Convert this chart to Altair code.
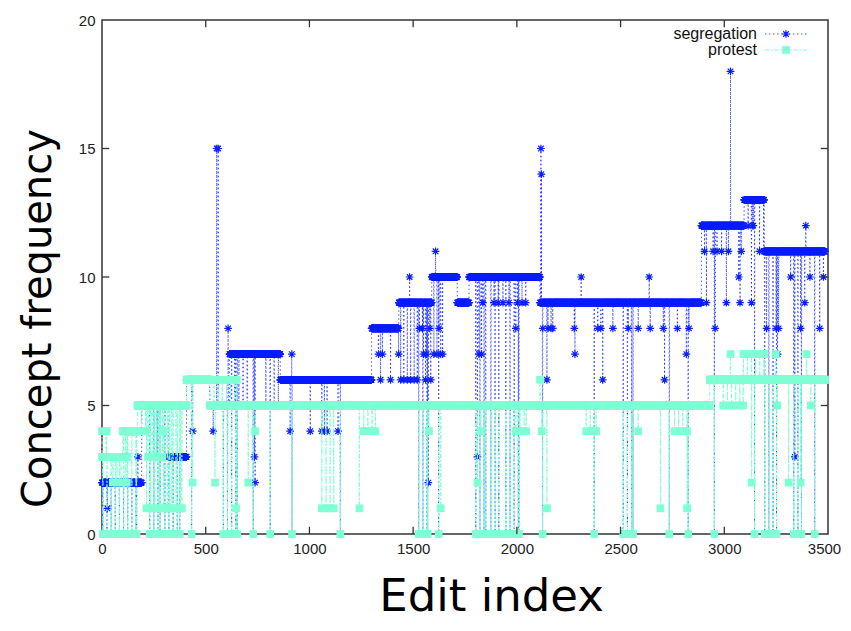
import numpy as np
import pandas as pd
import altair as alt

# ---------------- data ----------------
N_EDITS = 3486          # number of edits in the history
BAND_STEP = 20          # sampling of short revert/oscillation episodes

series_names = ["segregation", "protest"]

# segregation: plateau levels (run start edit, value) -- value holds until next start
seg_run_start = [0, 192, 320, 408, 520, 615, 860, 1300, 1430, 1590, 1713, 1770, 2112, 2890, 3095, 3193]
seg_run_value = [2, 5, 3, 6, 5, 7, 6, 8, 9, 10, 9, 10, 9, 12, 13, 11]

# segregation: episodes where the count flips back and forth to another level
seg_band_start = [640, 790, 3095, 3170]
seg_band_end = [700, 850, 3140, 3193]
seg_band_value = [5, 5, 12, 11]

# segregation: single-edit excursions
seg_spike_x = [26, 173, 232, 240, 250, 265, 437, 536, 553, 560, 577, 585, 608, 735, 738,
               907, 915, 1004, 1060, 1072, 1085, 1138, 1333, 1343, 1352, 1391, 1430, 1440,
               1455, 1472, 1483, 1488, 1505, 1520, 1530, 1545, 1550, 1560, 1565, 1573, 1580,
               1585, 1600, 1608, 1615, 1625, 1633, 1642, 1810, 1817, 1822, 1830, 1836, 1890,
               1910, 1933, 1962, 1995, 2004, 2010, 2025, 2043, 2116, 2118, 2125, 2145, 2150,
               2165, 2173, 2277, 2280, 2310, 2390, 2405, 2414, 2463, 2537, 2585, 2638, 2643,
               2706, 2712, 2774, 2817, 2830, 2905, 2914, 2946, 2956, 2965, 2987, 3010, 3020,
               3030, 3070, 3076, 3082, 3131, 3204, 3215, 3235, 3250, 3257, 3262, 3320, 3340,
               3368, 3388, 3393, 3413, 3460, 3478]
seg_spike_y = [1, 3, 5, 5, 3, 3, 4, 4, 15, 15, 5, 4, 8, 3, 2,
               4, 7, 4, 4, 4, 4, 4, 7, 6, 7, 6, 7, 6,
               6, 6, 10, 6, 6, 6, 8, 8, 7, 6, 7, 2, 8,
               6, 7, 11, 7, 8, 7, 7, 3, 7, 9, 7, 9, 9,
               9, 9, 9, 8, 9, 7, 9, 9, 15, 14, 8, 6, 8,
               8, 8, 8, 7, 10, 8, 8, 6, 8, 8, 8, 10, 8,
               8, 6, 8, 7, 8, 11, 9, 11, 8, 11, 11, 9, 11,
               18, 10, 9, 11, 9, 8, 8, 8, 8, 7, 8, 10, 3,
               8, 9, 12, 10, 8, 10]

# protest
prot_run_start = [0, 100, 170, 408, 520, 2930]
prot_run_value = [3, 4, 5, 6, 5, 6]

prot_band_start = [0, 52, 100, 170, 222, 215, 337, 520, 1060, 1262, 1995, 2334, 2760, 2995, 3091]
prot_band_end = [23, 120, 124, 295, 290, 327, 385, 650, 1117, 1318, 2045, 2382, 2826, 3091, 3193]
prot_band_value = [4, 2, 3, 4, 3, 1, 1, 6, 1, 4, 4, 4, 4, 5, 7]

prot_spike_x = [437, 545, 646, 705, 738, 1241, 1576, 1633, 1802, 1810, 1826, 2112, 2120, 2145,
                2585, 2692, 2821, 3030, 3131, 3248, 3256, 3310, 3368, 3397, 3417]
prot_spike_y = [2, 2, 1, 2, 4, 1, 4, 1, 1, 2, 4, 6, 4, 1,
                4, 1, 1, 7, 2, 7, 5, 2, 2, 7, 5]

# blanked edits (both concepts drop to zero)
blank_band_start = [4, 230, 303, 585, 1527, 1802, 1875, 1947, 2513, 3195, 3335]
blank_band_end = [167, 280, 375, 652, 1570, 1850, 1913, 2010, 2560, 3252, 3372]
blank_x = [432, 729, 811, 916, 1149, 1623, 2124, 2373, 2735, 2826, 2952, 3146, 3436]

x_tick_values = [0, 500, 1000, 1500, 2000, 2500, 3000, 3500]
y_tick_values = [0, 5, 10, 15, 20]

# ---------------- build per-edit series ----------------
def band_positions(s, e):
    xs = list(range(s, e + 1, BAND_STEP))
    if xs[-1] != e:
        xs.append(e)
    return xs


def build(run_start, run_value, bs, be, bv, sx, sy):
    vals = np.zeros(N_EDITS)
    ends = list(run_start[1:]) + [N_EDITS]
    for s, e, v in zip(run_start, ends, run_value):
        vals[s:e] = v
    taken = set()

    def put(x, v):
        while x in taken and x < N_EDITS - 1:
            x += 1
        taken.add(x)
        vals[x] = v

    for s, e, v in zip(bs, be, bv):
        for x in band_positions(s, e):
            put(x, v)
    for x, v in zip(sx, sy):
        put(x, v)
    for s, e in zip(blank_band_start, blank_band_end):
        for x in band_positions(s, e):
            vals[x] = 0
    for x in blank_x:
        vals[x] = 0
    return vals


seg_vals = build(seg_run_start, seg_run_value, seg_band_start, seg_band_end, seg_band_value,
                 seg_spike_x, seg_spike_y)
prot_vals = build(prot_run_start, prot_run_value, prot_band_start, prot_band_end, prot_band_value,
                  prot_spike_x, prot_spike_y)

edits = np.arange(N_EDITS)
df_seg = pd.DataFrame({"edit": edits, "freq": seg_vals})
df_prot = pd.DataFrame({"edit": edits, "freq": prot_vals})

BLUE = "#0a1eff"
CYAN = "#7fffd4"
STAR = "M-1,0L1,0M0,-1L0,1M-0.72,-0.72L0.72,0.72M-0.72,0.72L0.72,-0.72"
STAR_SIZE = 60
SQ_SIZE = 60

X0, X1 = 0, 3500
Y0, Y1 = 0, 20
xscale = alt.Scale(domain=[X0, X1], nice=False, zero=False)
yscale = alt.Scale(domain=[Y0, Y1], nice=False, zero=False)

xaxis = alt.Axis(values=x_tick_values, format="d", labelFlush=False, title="Edit index", grid=False,
                 domain=False, tickSize=0,
                 labelOffset={"condition": {"test": f"datum.value >= {X1}", "value": -4}, "value": 0},
                 labelFont="Liberation Sans", labelFontSize=15, labelColor="#222222", labelPadding=7,
                 titleFont="DejaVu Sans", titleFontSize=45, titleFontWeight="normal", titleColor="#000000",
                 titleX=389, titleY=76, titleBaseline="alphabetic", titleAlign="center")
yaxis = alt.Axis(values=y_tick_values, format="d", labelFlush=False, title="Concept frequency", grid=False,
                 domain=False, tickSize=0,
                 labelFont="Liberation Sans", labelFontSize=15, labelColor="#222222", labelPadding=7,
                 titleFont="DejaVu Sans", titleFontSize=40, titleFontWeight="normal", titleColor="#000000",
                 titleX=-52, titleY=298, titleBaseline="alphabetic", titleAlign="center", titleAngle=270)


def xenc(field):
    return alt.X(field, scale=xscale, axis=xaxis)


def yenc(field):
    return alt.Y(field, scale=yscale, axis=yaxis)


seg_line = alt.Chart(df_seg).mark_line(color=BLUE, strokeWidth=1, strokeDash=[1.5, 2.5], opacity=0.75).encode(
    x=xenc("edit:Q"), y=yenc("freq:Q"), order="edit:Q",
)
seg_pts = alt.Chart(df_seg).mark_point(shape=STAR, size=STAR_SIZE, color=BLUE, strokeWidth=1.2, filled=False,
                                       opacity=1).encode(x=xenc("edit:Q"), y=yenc("freq:Q"))
prot_line = alt.Chart(df_prot).mark_line(color=CYAN, strokeWidth=1, strokeDash=[4, 2, 1.5, 2]).encode(
    x=xenc("edit:Q"), y=yenc("freq:Q"), order="edit:Q",
)
prot_pts = alt.Chart(df_prot).mark_square(size=SQ_SIZE, color=CYAN, opacity=1).encode(
    x=xenc("edit:Q"), y=yenc("freq:Q"))

# inward ticks on all four sides (gnuplot style)
TL_Y = 0.28
TL_X = 35
rows = []
for t in x_tick_values[1:-1]:
    rows.append((t, Y0, t, Y0 + TL_Y))
    rows.append((t, Y1, t, Y1 - TL_Y))
for t in y_tick_values[1:-1]:
    rows.append((X0, t, X0 + TL_X, t))
    rows.append((X1, t, X1 - TL_X, t))
df_ticks = pd.DataFrame(rows, columns=["x", "y", "x2", "y2"])
ticks = alt.Chart(df_ticks).mark_rule(color="#333333", strokeWidth=1.3).encode(
    x=xenc("x:Q"), x2="x2:Q", y=yenc("y:Q"), y2="y2:Q",
)

# legend (top right, labels left of samples)
leg_df_seg = pd.DataFrame({"label": [series_names[0]]})
leg_df_prot = pd.DataFrame({"label": [series_names[1]]})
LEG_TX = 655
LEG_S0, LEG_S1, LEG_SM = 663, 705, 684
leg_seg_text = alt.Chart(leg_df_seg).mark_text(align="right", baseline="alphabetic", font="Liberation Sans",
                                               fontSize=16, color="#111111").encode(
    text="label:N", x=alt.value(LEG_TX), y=alt.value(19))
leg_prot_text = alt.Chart(leg_df_prot).mark_text(align="right", baseline="alphabetic", font="Liberation Sans",
                                                 fontSize=16, color="#111111").encode(
    text="label:N", x=alt.value(LEG_TX), y=alt.value(35))
leg_seg_line = alt.Chart(leg_df_seg).mark_rule(color=BLUE, strokeWidth=1, strokeDash=[1.5, 2.5], opacity=0.75).encode(
    x=alt.value(LEG_S0), x2=alt.value(LEG_S1), y=alt.value(14))
leg_prot_line = alt.Chart(leg_df_prot).mark_rule(color=CYAN, strokeWidth=1, strokeDash=[4, 2, 1.5, 2]).encode(
    x=alt.value(LEG_S0), x2=alt.value(LEG_S1), y=alt.value(30))
leg_seg_pt = alt.Chart(leg_df_seg).mark_point(shape=STAR, size=STAR_SIZE, color=BLUE, strokeWidth=1.2,
                                              filled=False, opacity=1).encode(
    x=alt.value(LEG_SM), y=alt.value(14))
leg_prot_pt = alt.Chart(leg_df_prot).mark_square(size=SQ_SIZE, color=CYAN, opacity=1).encode(
    x=alt.value(LEG_SM), y=alt.value(30))

chart = alt.layer(
    seg_line, seg_pts, prot_line, prot_pts, ticks,
    leg_seg_line, leg_prot_line, leg_seg_pt, leg_prot_pt, leg_seg_text, leg_prot_text,
).properties(
    width=726, height=514,
    autosize=alt.AutoSizeParams(type="none"),
    padding={"left": 94, "top": 12, "right": 15, "bottom": 87},
    background="white",
).configure_view(stroke="#333333", strokeWidth=1.5)

chart.save("out.html", embed_options={"renderer": "svg", "actions": False})
